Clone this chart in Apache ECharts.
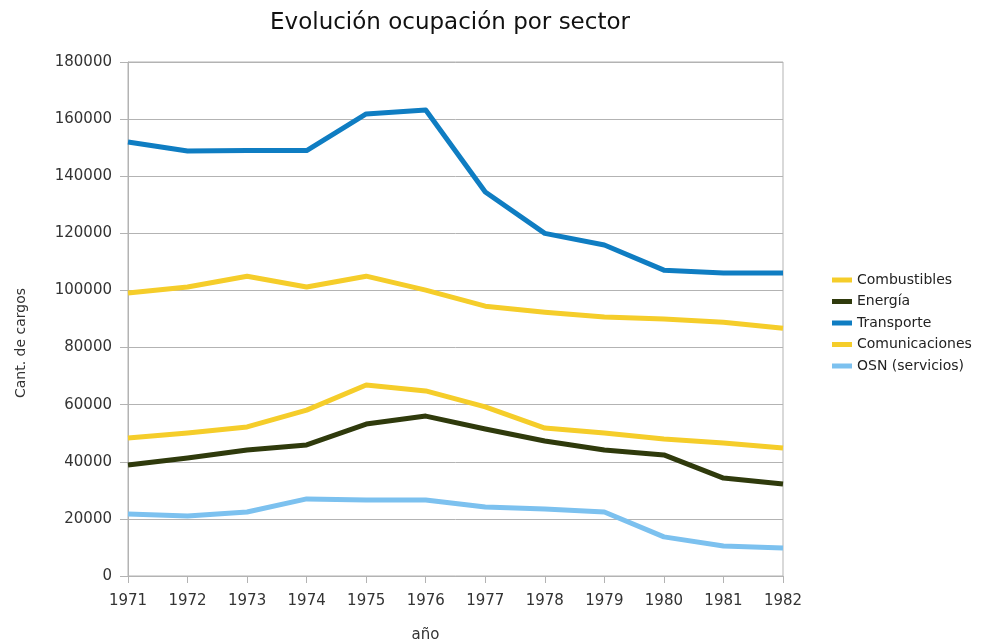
<!DOCTYPE html>
<html><head><meta charset="utf-8">
<script src="https://cdn.jsdelivr.net/npm/echarts@6/dist/echarts.min.js"></script>
<style>html,body{margin:0;padding:0;background:#fff}#c{width:998px;height:644px}</style>
</head><body><div id="c"></div>
<script>
const years = ['1971','1972','1973','1974','1975','1976','1977','1978','1979','1980','1981','1982'];
const combustibles = [48300,50100,52200,58100,66900,64800,59200,51800,50100,48000,46600,44800];
const energia = [38900,41300,44100,45900,53200,56000,51500,47300,44100,42400,34300,32200];
const transporte = [152000,148800,149000,149000,161800,163200,134500,120000,115900,107100,106100,106100];
const comunicaciones = [99100,101200,105000,101200,105000,100100,94500,92400,90700,90000,88900,86800];
const osn = [21700,21000,22400,27000,26600,26600,24200,23500,22400,13700,10500,9800];
const seriesNames = ['Combustibles','Energía','Transporte','Comunicaciones','OSN (servicios)'];
const seriesData = [combustibles, energia, transporte, comunicaciones, osn];
const colors = ['#f5cd2a','#2f3a0c','#0f7dc2','#f5cd2a','#7cc1ef'];

const font = 'DejaVu Sans';
const chart = echarts.init(document.getElementById('c'));
chart.setOption({
  animation:false,
  color: colors,
  title:{text:'Evolución ocupación por sector',left:445,textAlign:'center',top:7,
    textStyle:{fontFamily:font,fontSize:23,fontWeight:'normal',color:'#111'}},
  legend:{orient:'vertical',left:827,top:268,itemWidth:20,itemHeight:5,itemGap:7.5,
    icon:'rect',
    textStyle:{fontFamily:font,fontSize:14,color:'#222'},
    data:seriesNames},
  grid:{left:128,right:215,top:62,bottom:68,outerBoundsMode:'none',containLabel:false,
    show:true,borderColor:'#b3b3b3',borderWidth:1,backgroundColor:'transparent'},
  xAxis:{type:'category',data:years,boundaryGap:false,
    name:'año',nameLocation:'middle',nameGap:52,
    nameTextStyle:{fontFamily:font,fontSize:15,color:'#333',padding:[0,60,0,0]},
    axisLine:{lineStyle:{color:'#b3b3b3'}},
    axisTick:{show:true,length:7,lineStyle:{color:'#b3b3b3'}},
    axisLabel:{fontFamily:font,fontSize:15,color:'#333',margin:18},
    splitLine:{show:false}},
  yAxis:{type:'value',min:0,max:180000,interval:20000,
    name:'Cant. de cargos',nameLocation:'middle',nameGap:100,
    nameTextStyle:{fontFamily:font,fontSize:14,color:'#333',padding:[0,0,0,-48]},
    axisLine:{show:true,lineStyle:{color:'#b3b3b3'}},
    axisTick:{show:true,inside:false,length:8,lineStyle:{color:'#b3b3b3'}},
    axisLabel:{fontFamily:font,fontSize:15,color:'#333',margin:16,formatter:v=>String(v)},
    splitLine:{lineStyle:{color:'#b3b3b3',width:1}}},
  series: seriesNames.map((n,i)=>({name:n,type:'line',data:seriesData[i],
    symbol:'none',lineStyle:{width:5,color:colors[i],join:'round'},itemStyle:{color:colors[i]}}))
});
</script></body></html>
